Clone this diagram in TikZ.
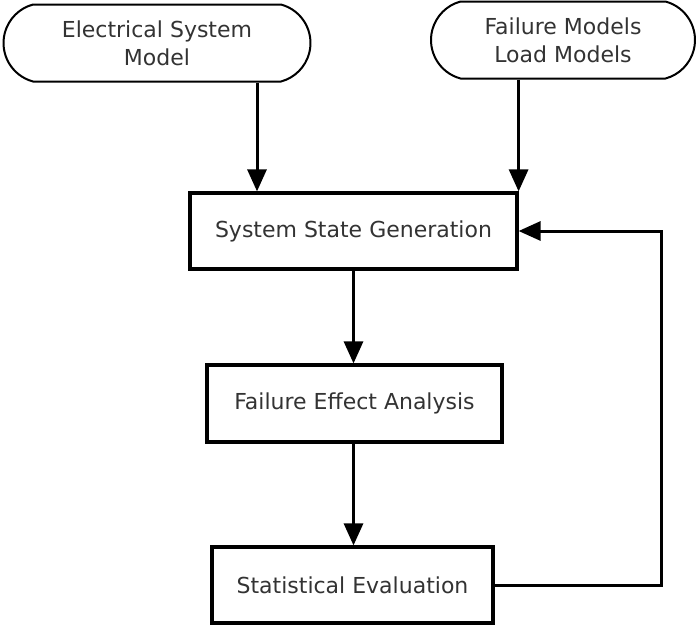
\documentclass[tikz,border=0pt]{standalone}
\usepackage{fontspec}
\setmainfont{DejaVu Sans}
\usetikzlibrary{shapes.misc,arrows.meta}

\tikzstyle{termbox} = [draw=black, fill=white, line width=2pt,
    rounded rectangle, rounded rectangle arc length=150, inner sep=0pt,
    align=center, text=black!80, font=\fontsize{22}{28}\selectfont]
\tikzstyle{procbox} = [draw=black, fill=white, line width=3.2pt,
    rectangle, inner sep=0pt, align=center, text=black!80,
    font=\fontsize{22}{28}\selectfont]
\tikzstyle{flow} = [line width=3pt, -{Triangle[length=22pt,width=19pt]}]

\begin{document}
\begin{tikzpicture}[x=1pt, y=-1pt]
\useasboundingbox (0,0) rectangle (699,625);
% inputs
\node [termbox, minimum width=307pt, minimum height=77pt] (esm) at (157,43)
    {Electrical System\\Model};
\node [termbox, minimum width=264pt, minimum height=77pt] (fail) at (563,40)
    {Failure Models\\Load Models};
% main chain
\node [procbox, minimum width=327pt, minimum height=76pt] (gen) at (353.5,231)
    {System State Generation};
\node [procbox, minimum width=295pt, minimum height=77pt] (fea) at (354.5,403.5)
    {Failure Effect Analysis};
\node [procbox, minimum width=281pt, minimum height=76pt] (stat) at (352.5,585)
    {Statistical Evaluation};
% connectors
\draw [flow] ([xshift=100pt]esm.south) -- ([xshift=100pt]esm.south |- gen.north);
\draw [flow] (fail.south -| gen.north east) -- (gen.north east);
\draw [flow] (gen.south) -- (gen.south |- fea.north);
\draw [flow] (gen.south |- fea.south) -- (gen.south |- stat.north);
\draw [flow] (stat.east) -- ++(167,0) |- (gen.east);
\end{tikzpicture}
\end{document}
